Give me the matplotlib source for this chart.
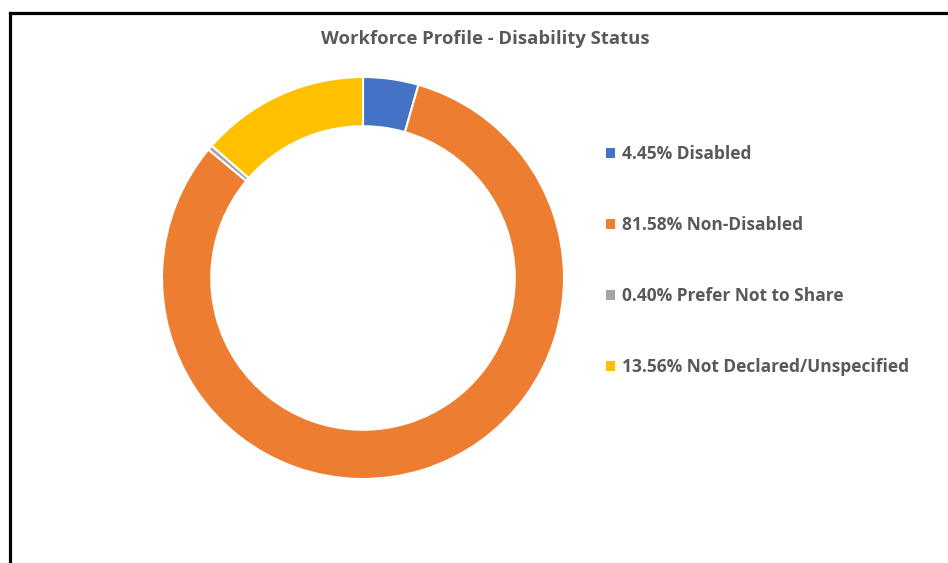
import matplotlib
matplotlib.use('Agg')
import matplotlib.pyplot as plt
from matplotlib.lines import Line2D

# data
categories = ['Disabled', 'Non-Disabled', 'Prefer Not to Share', 'Not Declared/Unspecified']
shares = [4.45, 81.58, 0.40, 13.56]
colors = ['#4472C4', '#ED7D31', '#A5A5A5', '#FFC000']

plt.rcParams['font.family'] = ['Open Sans', 'DejaVu Sans']

fig = plt.figure(figsize=(9.48, 5.63), dpi=100)
fig.patch.set_facecolor('white')

# black frame on left and top (screenshot crop)
fig.add_artist(Line2D([9.5 / 948, 9.5 / 948], [0, 1 - 12.5 / 563], color='black', lw=2.3,
                      solid_capstyle='projecting', transform=fig.transFigure))
fig.add_artist(Line2D([9.5 / 948, 1], [1 - 12.5 / 563, 1 - 12.5 / 563], color='black', lw=2.3,
                      solid_capstyle='projecting', transform=fig.transFigure))

# donut
ax = fig.add_axes([162 / 948, (563 - 278 - 201) / 563, 402 / 948, 402 / 563])
wedges, _ = ax.pie(shares, colors=colors, startangle=90, counterclock=False,
                   radius=1, wedgeprops=dict(width=0.245, edgecolor='white', linewidth=1.5))
ax.set_xlim(-1, 1)
ax.set_ylim(-1, 1)
ax.set_aspect('equal')
ax.axis('off')

fig.text(485 / 948, 1 - 39 / 563, 'Workforce Profile - Disability Status', ha='center', va='center',
         fontsize=13.3, fontweight='bold', color='#595959')

labels = [f'{v:.2f}% {c}' for v, c in zip(shares, categories)]
leg = fig.legend(wedges, labels, loc='upper left', bbox_to_anchor=(606 / 948, 1 - 145 / 563),
                 frameon=False, fontsize=12.5, labelspacing=3.05, handlelength=0.5,
                 handleheight=0.5, handletextpad=0.45, borderaxespad=0, borderpad=0)
for t in leg.get_texts():
    t.set_color('#595959')
    t.set_fontweight('bold')
for h in leg.legend_handles:
    h.set_edgecolor('none')

plt.savefig('out.png', dpi=100)
